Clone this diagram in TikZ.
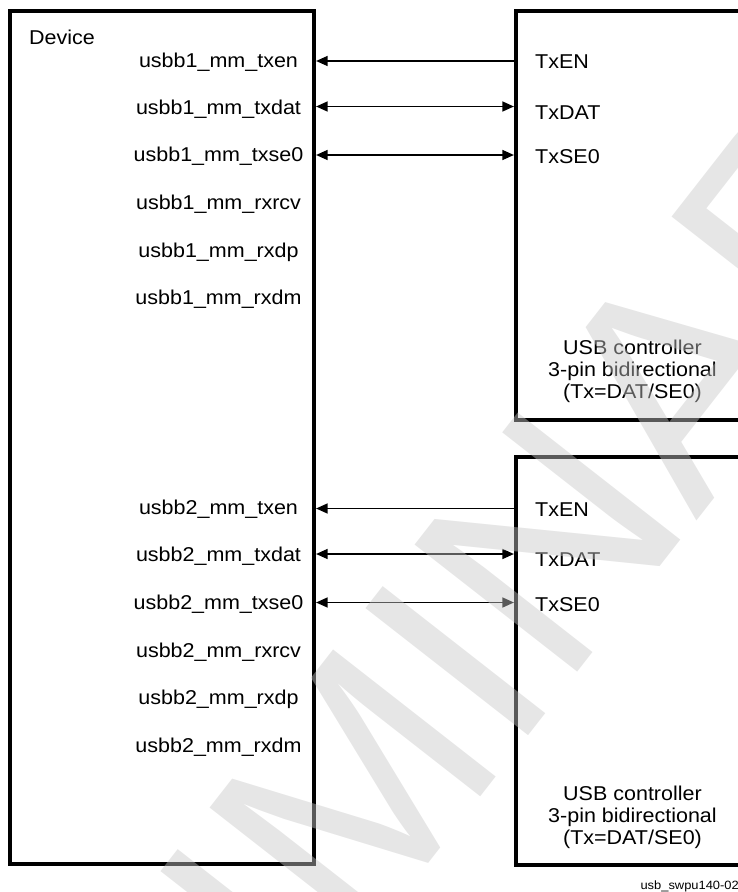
\documentclass[tikz,border=0pt]{standalone}
\usepackage{fontspec}
\setmainfont{Liberation Sans}[FakeStretch=1.075]
\newfontfamily\wmfont{Liberation Sans}
\usetikzlibrary{arrows.meta}
\begin{document}
\begin{tikzpicture}[x=1pt,y=-1pt]
\tikzset{
  box/.style={draw=black, line width=4.2pt, minimum width=304pt, inner sep=0pt},
  lbl/.style={font=\fontsize{20}{22}\selectfont, inner sep=0pt, text=black},
  pin/.style={lbl, anchor=base},
  cpin/.style={lbl, anchor=base west},
  desc/.style={lbl, anchor=base},
  wire/.style={draw=black, line width=1.4pt, >={Triangle[length=11.5pt,width=10pt]}},
  wmark/.style={font=\wmfont\fontsize{300}{300}\selectfont, text=black!22, text opacity=0.45, inner sep=0pt}
}
\useasboundingbox (0,0) rectangle (738,892);
\clip (0,0) rectangle (738,892);

% boxes
\node[box, minimum height=853pt] (dev) at (162,437.5) {};
\node[box, minimum height=409pt] (ctl1) at (668,215.5) {};
\node[box, minimum height=408pt] (ctl2) at (668,661) {};

% device labels
\node[lbl, anchor=base west] (devlbl) at (29,44) {Device};
\node[pin] (d1a) at (218.5,67)    {usbb1\_mm\_txen};
\node[pin] (d1b) at (218.5,114)   {usbb1\_mm\_txdat};
\node[pin] (d1c) at (218.5,161.5) {usbb1\_mm\_txse0};
\node[pin] (d1d) at (218.5,209.5) {usbb1\_mm\_rxrcv};
\node[pin] (d1e) at (218.5,257)   {usbb1\_mm\_rxdp};
\node[pin] (d1f) at (218.5,304.5) {usbb1\_mm\_rxdm};
\node[pin] (d2a) at (218.5,514.5) {usbb2\_mm\_txen};
\node[pin] (d2b) at (218.5,561.5) {usbb2\_mm\_txdat};
\node[pin] (d2c) at (218.5,609)   {usbb2\_mm\_txse0};
\node[pin] (d2d) at (218.5,657)   {usbb2\_mm\_rxrcv};
\node[pin] (d2e) at (218.5,704.5) {usbb2\_mm\_rxdp};
\node[pin] (d2f) at (218.5,752)   {usbb2\_mm\_rxdm};

% controller labels
\node[cpin] (c1a) at (535,68)    {TxEN};
\node[cpin] (c1b) at (535,119)   {TxDAT};
\node[cpin] (c1c) at (535,163.5) {TxSE0};
\node[cpin] (c2a) at (535,516)   {TxEN};
\node[cpin] (c2b) at (535,566)   {TxDAT};
\node[cpin] (c2c) at (535,611)   {TxSE0};

\node[desc] (c1t1) at (632.5,354) {USB controller};
\node[desc] (c1t2) at (632.5,376) {3-pin bidirectional};
\node[desc] (c1t3) at (632.5,398) {(Tx=DAT/SE0)};
\node[desc] (c2t1) at (632.5,800) {USB controller};
\node[desc] (c2t2) at (632.5,822) {3-pin bidirectional};
\node[desc] (c2t3) at (632.5,844) {(Tx=DAT/SE0)};

\node[inner sep=0pt, anchor=base east, font=\fontsize{12}{14}\selectfont] (fig) at (739,889) {usb\_swpu140-02};

% rows
\coordinate (y1) at (0,61);
\coordinate (y2) at (0,106.5);
\coordinate (y3) at (0,155);
\coordinate (y4) at (0,508.5);
\coordinate (y5) at (0,554);
\coordinate (y6) at (0,602.5);

% connectors
\draw[wire,<-]  (dev.east |- y1) -- (ctl1.west |- y1);
\draw[wire,<->] (dev.east |- y2) -- (ctl1.west |- y2);
\draw[wire,<->] (dev.east |- y3) -- (ctl1.west |- y3);
\draw[wire,<-]  (dev.east |- y4) -- (ctl2.west |- y4);
\draw[wire,<->] (dev.east |- y5) -- (ctl2.west |- y5);
\draw[wire,<->] (dev.east |- y6) -- (ctl2.west |- y6);

% watermark
\node[wmark, rotate=52] (wm) at (367,775) {PRELIMINARY};
\end{tikzpicture}
\end{document}
